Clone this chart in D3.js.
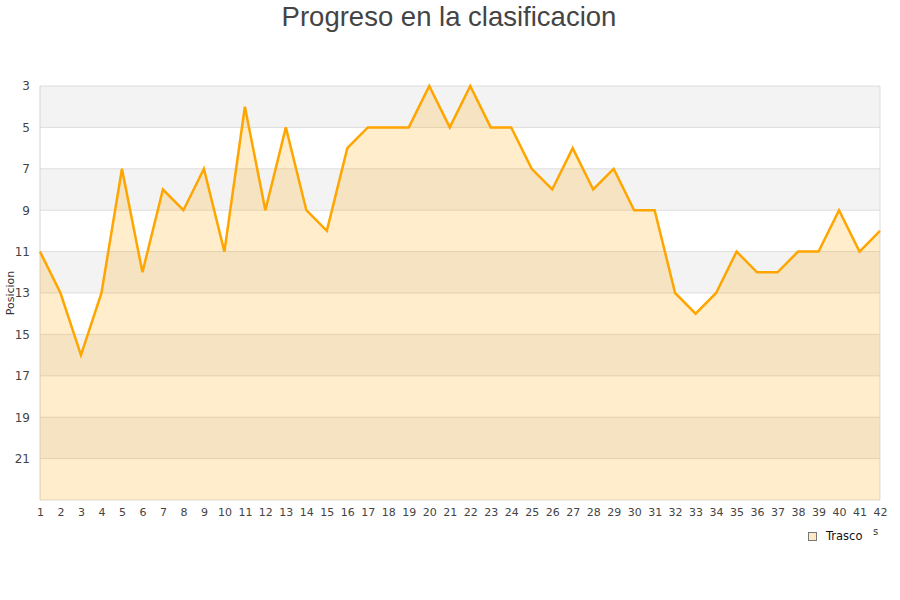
<!DOCTYPE html>
<html>
<head>
<meta charset="utf-8">
<script src="https://cdn.jsdelivr.net/npm/d3@7"></script>
<style>
  body { margin: 0; background: #fff; }
  text { font-family: "DejaVu Sans", sans-serif; }
</style>
</head>
<body>
<div class="canvas"></div>
<script>
// jornadas 1..42
const jornadas = d3.range(1, 43);
const posiciones = [11, 13, 16, 13, 7, 12, 8, 9, 7, 11,
                    4, 9, 5, 9, 10, 6, 5, 5, 5, 3,
                    5, 3, 5, 5, 7, 8, 6, 8, 7, 9,
                    9, 13, 14, 13, 11, 12, 12, 11, 11, 9,
                    11, 10];
const yTicks = [3, 5, 7, 9, 11, 13, 15, 17, 19, 21];
const serieNombre = "Trasco";

const width = 900, height = 600;
const plotLeft = 40, plotRight = 880, plotTop = 86, plotBottom = 500;

const svg = d3.select(".canvas").append("svg")
    .attr("width", width)
    .attr("height", height);

const x = d3.scaleLinear().domain([1, 42]).range([plotLeft, plotRight]);
const y = d3.scaleLinear().domain([3, 23]).range([plotTop, plotBottom]);

// alternating bands
svg.selectAll("rect.band")
    .data(yTicks.filter((d, i) => i % 2 == 0))
    .enter().append("rect")
    .attr("class", "band")
    .attr("x", plotLeft)
    .attr("width", plotRight - plotLeft)
    .attr("y", d => y(d))
    .attr("height", d => y(d + 2) - y(d))
    .attr("fill", "#f3f3f3");

// grid lines
svg.selectAll("line.grid")
    .data(yTicks)
    .enter().append("line")
    .attr("x1", plotLeft).attr("x2", plotRight)
    .attr("y1", d => y(d)).attr("y2", d => y(d))
    .attr("stroke", "#dddddd")
    .attr("stroke-width", 1);

// frame
svg.append("line").attr("x1", plotRight).attr("x2", plotRight).attr("y1", plotTop).attr("y2", plotBottom)
    .attr("stroke", "#dddddd");
svg.append("line").attr("x1", plotLeft).attr("x2", plotRight).attr("y1", plotBottom).attr("y2", plotBottom)
    .attr("stroke", "#dddddd");
svg.append("line").attr("x1", plotLeft).attr("x2", plotLeft).attr("y1", plotTop).attr("y2", plotBottom)
    .attr("stroke", "#d4d4d4");

const pts = jornadas.map((j, i) => [j, posiciones[i]]);

const area = d3.area()
    .x(d => x(d[0]))
    .y0(y(23))
    .y1(d => y(d[1]));

svg.append("path")
    .datum(pts)
    .attr("d", area)
    .attr("fill", "rgba(255,165,0,0.2)");

const line = d3.line()
    .x(d => x(d[0]))
    .y(d => y(d[1]));

svg.append("path")
    .datum(pts)
    .attr("d", line)
    .attr("fill", "none")
    .attr("stroke", "#ffa500")
    .attr("stroke-width", 2.5)
    .attr("stroke-linejoin", "miter");

// y axis labels
const yAxis = d3.axisLeft(y).tickValues(yTicks).tickSize(0).tickPadding(10);
const gy = svg.append("g").attr("transform", `translate(${plotLeft},0)`).call(yAxis);
gy.select(".domain").remove();
gy.selectAll("text").attr("fill", "#444").style("font-size", "12px");

// x axis labels
const xAxis = d3.axisBottom(x).tickValues(jornadas).tickSize(0).tickPadding(8);
const gx = svg.append("g").attr("transform", `translate(0,${plotBottom})`).call(xAxis);
gx.select(".domain").remove();
gx.selectAll("text").attr("fill", "#444").style("font-size", "11px");

// title
svg.append("text")
    .attr("x", 449).attr("y", 26)
    .attr("text-anchor", "middle")
    .style("font-family", "'Liberation Sans', Arial, sans-serif")
    .style("font-size", "27.5px")
    .attr("fill", "#444")
    .text("Progreso en la clasificacion");

// y title
svg.append("text")
    .attr("transform", "translate(14,293) rotate(-90)")
    .attr("text-anchor", "middle")
    .style("font-size", "11px")
    .attr("fill", "#333")
    .text("Posicion");

// legend
svg.append("rect")
    .attr("x", 808.5).attr("y", 532.5)
    .attr("width", 8).attr("height", 8)
    .attr("fill", "#fde9c4")
    .attr("stroke", "#777");
svg.append("text")
    .attr("x", 826).attr("y", 540)
    .style("font-size", "11.5px")
    .attr("fill", "#111")
    .text(serieNombre);
svg.append("text")
    .attr("x", 873).attr("y", 535)
    .style("font-size", "10px")
    .attr("fill", "#333")
    .text("s");
</script>
</body>
</html>
